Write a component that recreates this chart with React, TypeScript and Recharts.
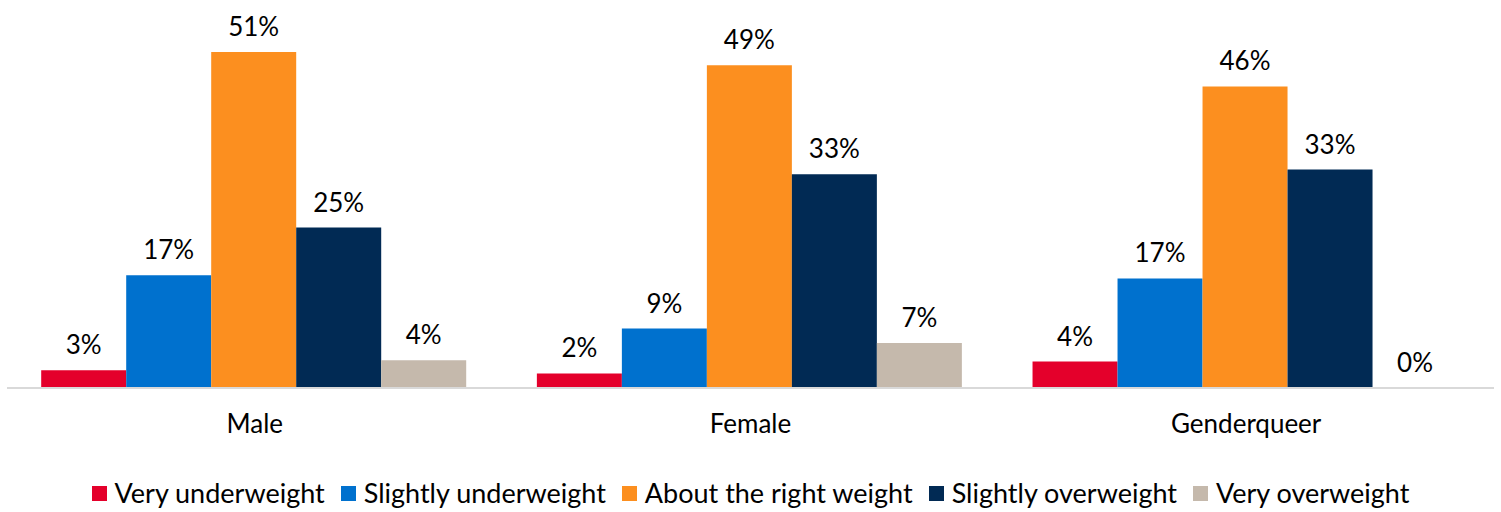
import React from 'react';
import { BarChart, Bar, XAxis, YAxis, LabelList, Legend } from 'recharts';

const FONT = 'Lato, "Noto Sans", sans-serif';

const categories = ['Male', 'Female', 'Genderqueer'];
const seriesNames = [
  'Very underweight',
  'Slightly underweight',
  'About the right weight',
  'Slightly overweight',
  'Very overweight',
];
const seriesColors = ['#E4002B', '#0071CE', '#FC8F1F', '#012A54', '#C5B9AC'];

// bar values and their printed labels
const veryUnderweight = [2.7, 2.2, 4.0];
const slightlyUnderweight = [17.1, 9.0, 16.6];
const aboutRightWeight = [50.9, 48.9, 45.7];
const slightlyOverweight = [24.3, 32.4, 33.1];
const veryOverweight = [4.2, 6.8, 0];

const veryUnderweightLabels = ['3%', '2%', '4%'];
const slightlyUnderweightLabels = ['17%', '9%', '17%'];
const aboutRightWeightLabels = ['51%', '49%', '46%'];
const slightlyOverweightLabels = ['25%', '33%', '33%'];
const veryOverweightLabels = ['4%', '7%', '0%'];

const seriesValues = [veryUnderweight, slightlyUnderweight, aboutRightWeight, slightlyOverweight, veryOverweight];
const seriesLabels = [
  veryUnderweightLabels,
  slightlyUnderweightLabels,
  aboutRightWeightLabels,
  slightlyOverweightLabels,
  veryOverweightLabels,
];

const data = categories.map((category, i) => {
  const row: Record<string, string | number> = { category };
  seriesValues.forEach((vals, s) => {
    row[`s${s}`] = vals[i];
    row[`l${s}`] = seriesLabels[s][i];
  });
  return row;
});

const renderLegend = () => (
  <div
    style={{
      display: 'flex',
      justifyContent: 'center',
      alignItems: 'center',
      height: 30,
      lineHeight: '26px',
      fontFamily: FONT,
      fontSize: 27,
      color: '#000',
      paddingBottom: 8,
      boxSizing: 'border-box',
    }}
  >
    {seriesNames.map((name, i) => (
      <div key={name} style={{ display: 'flex', alignItems: 'center', marginRight: i < seriesNames.length - 1 ? 16 : 0 }}>
        <span style={{ display: 'inline-block', width: 15, height: 15, background: seriesColors[i], marginRight: 8 }} />
        <span>{name}</span>
      </div>
    ))}
  </div>
);

export default function App() {
  return (
    <div style={{ position: 'absolute', left: 0, top: 0, width: 1501, height: 512, background: '#fff' }}>
      <BarChart
        width={1501}
        height={512}
        data={data}
        margin={{ top: 25, right: 7, left: 7, bottom: 0 }}
        barCategoryGap="6.9%"
        barGap={0}
      >
        <XAxis
          dataKey="category"
          axisLine={{ stroke: '#D9D9D9', strokeWidth: 2 }}
          tickLine={false}
          tickMargin={21}
          interval={0}
          height={94}
          tick={{ fill: '#000', fontSize: 26, fontFamily: FONT }}
        />
        <YAxis hide domain={[0, 55]} />
        <Legend verticalAlign="bottom" content={renderLegend} />
        {seriesNames.map((name, s) => (
          <Bar
            key={name}
            dataKey={`s${s}`}
            name={name}
            fill={seriesColors[s]}
            minPointSize={0.01}
            isAnimationActive={false}
          >
            <LabelList
              dataKey={`l${s}`}
              position="top"
              offset={16}
              fill="#000"
              fontSize={26}
              fontFamily={FONT}
            />
          </Bar>
        ))}
      </BarChart>
    </div>
  );
}
